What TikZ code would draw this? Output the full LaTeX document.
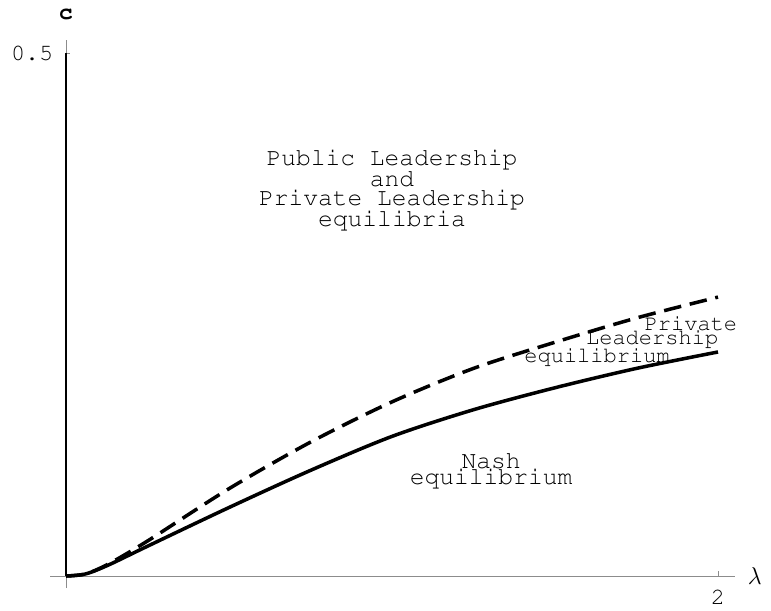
\documentclass[tikz,border=0pt]{standalone}
\usepackage[T1,TU]{fontenc}
\newcommand\courier{\fontencoding{T1}\fontfamily{pcr}\selectfont}
\definecolor{axisgray}{RGB}{140,140,140}
\tikzset{
  region/.style={font=\courier\fontsize{21}{16.4}\selectfont, align=center, inner sep=0pt},
  curvelab/.style={font=\courier\fontsize{18.8}{16}\selectfont, inner sep=0pt, anchor=base},
  ticklab/.style={font=\courier\fontsize{20}{20}\selectfont, inner sep=0pt},
  axisline/.style={axisgray, line width=0.8pt},
  boundary/.style={line width=3pt},
}
\begin{document}
\begin{tikzpicture}[x=9.78cm,y=31.38cm]
\useasboundingbox (-0.2025,-0.0325) rectangle (2.1626,0.5507);
\draw[axisline] (-0.049,0)--(2.052,0);
\draw[axisline] (0,-0.0115)--(0,0.5124);
\draw[axisline] (2,0)--(2,0.005);
\draw[axisline] (0,0.5)--(0.012,0.5);
\draw[line width=1pt] (0,0)--(0,0.5);
% Nash / private leadership boundary
\draw[boundary] plot[smooth] coordinates {(0,0) (0.06,0.002) (0.13,0.0105) (0.25,0.0285) (0.5,0.0655) (0.75,0.101) (1.0,0.1335) (1.25,0.159) (1.5,0.180) (1.75,0.1985) (2,0.2142)};
% private / public leadership boundary
\draw[boundary, dash pattern=on 15pt off 7.5pt] plot[smooth] coordinates {(0,0) (0.06,0.002) (0.13,0.0115) (0.25,0.0335) (0.5,0.0835) (0.75,0.128) (1.0,0.1665) (1.25,0.1985) (1.5,0.2235) (1.75,0.2467) (2,0.2667)};
\node[ticklab] (ctick) at (-0.104,0.5) {0.5};
\node[ticklab] (ltick) at (2,-0.020) {2};
\node[ticklab, font=\courier\bfseries\fontsize{20}{20}\selectfont] (cname) at (0,0.537) {c};
\node[ticklab, font=\fontsize{22}{22}\selectfont] (lname) at (2.113,0) {$\lambda$};
\node[region] (both) at (1.0,0.369) {Public Leadership\\and\\Private Leadership\\equilibria};
\node[region, font=\courier\fontsize{21}{14}\selectfont] (nash) at (1.304,0.101) {Nash\\equilibrium};
\node[curvelab] (priv) at (1.917,0.235) {Private};
\node[curvelab] (lead) at (1.798,0.221) {Leadership};
\node[curvelab] (equi) at (1.629,0.2046) {equilibrium};
\end{tikzpicture}
\end{document}
